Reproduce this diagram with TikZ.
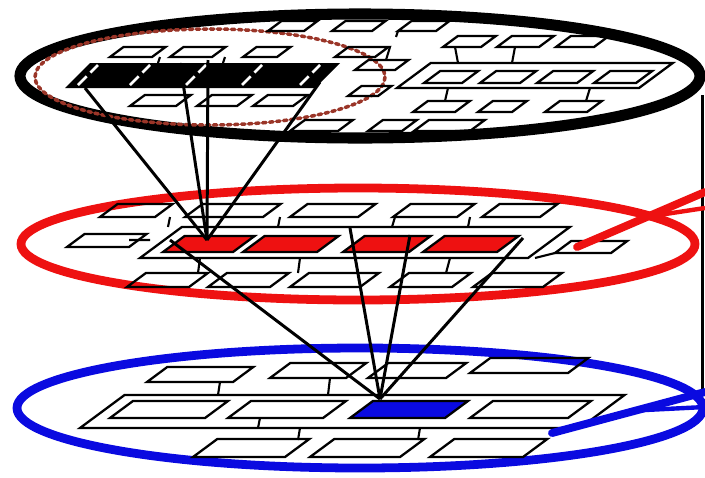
\documentclass[tikz,border=0pt]{standalone}
\usepackage{tikz}
\usetikzlibrary{calc}
\usepackage{xcolor}
\definecolor{toplayer}{HTML}{000000}
\definecolor{midlayer}{HTML}{EE1111}
\definecolor{lowlayer}{HTML}{0A0AE0}
\definecolor{zone}{HTML}{9A3528}

% parallelogram: bottom-left corner, width, height (skew follows height)
\newcommand{\pgram}[5][]{%
  \draw[box,#1] (#2,#3) -- ++(#4,0) -- ++({1.35*#5},{-#5}) -- ++(-#4,0) -- cycle;}

\begin{document}
\begin{tikzpicture}[x=0.02cm, y=-0.02cm,
    box/.style={line width=1.3pt, line join=miter},
    fan/.style={line width=1.7pt},
    stub/.style={line width=1.2pt}]
    \useasboundingbox (0,0) rectangle (705,477);

    % Layers
    \draw[line width=6.3pt, toplayer] (360,76) ellipse (340 and 62);
    \draw[line width=5pt, midlayer] (358,244) ellipse (337 and 56);
    \draw[line width=5pt, lowlayer] (360,408) ellipse (343 and 60);
    \draw[line width=2pt, zone, dotted, line cap=round] (210,77) ellipse (175 and 48);

    % Side line
    \coordinate (sideA) at (702,95);
    \coordinate (sideB) at (702,395);
    \draw[line width=1.7pt] (sideA) -- (sideB);

    % Top layer boxes
    \foreach \x/\w in {268/36, 332/40, 398/38} \pgram{\x}{31}{\w}{10};
    \foreach \x/\w in {443/38, 497/42, 556/38} \pgram{\x}{47}{\w}{11};
    \foreach \x/\w in {110/42, 170/42, 243/34, 335/40} \pgram{\x}{57}{\w}{10};
    \pgram{355}{70}{40}{10}
    \pgram{348}{96}{30}{10}
    \pgram{397}{88}{242}{25}
    \foreach \x/\w in {424/38, 480/40, 537/40, 594/42} \pgram{\x}{83}{\w}{12};
    \foreach \x/\w in {130/46, 197/40, 253/40} \pgram{\x}{106}{\w}{11};
    \foreach \x/\w in {413/42, 478/34, 545/42} \pgram{\x}{112}{\w}{11};
    \foreach \x/\w in {290/48, 368/34, 414/56} \pgram{\x}{131}{\w}{11};
    \draw[stub] (455,47) -- (458,63) (515,47) -- (512,63) (448,88) -- (445,101)
        (590,88) -- (586,101) (160,57) -- (158,63) (225,57) -- (223,63)
        (390,47) -- (386,60) (398,31) -- (396,37);

    % Selected group (top)
    \fill[toplayer] (65,88) -- (315,88) -- (340,63) -- (90,63) -- cycle;
    \foreach \x in {78, 130, 186, 242, 300}
      \draw[white, line width=1.5pt, dash pattern=on 7pt off 3pt] (\x,85) -- ++(20,-20);

    % Middle layer boxes
    \foreach \x/\w in {100/55, 185/78, 290/68, 393/64, 482/58} \pgram{\x}{217}{\w}{13};
    \pgram{67}{247}{62}{13}
    \pgram{140}{258}{388}{31}
    \foreach \x/\w in {163/70, 243/74, 343/66, 423/74}
      \pgram[fill=midlayer]{\x}{252}{\w}{16};
    \pgram{555}{253}{56}{12}
    \foreach \x/\w in {127/62, 208/62, 290/70, 390/62, 473/70} \pgram{\x}{287}{\w}{14};
    \draw[stub] (170,217) -- (168,227) (280,217) -- (278,227) (395,217) -- (392,227)
        (470,217) -- (468,227) (535,258) -- (555,253) (129,240) -- (150,240)
        (200,258) -- (198,273) (300,258) -- (298,273) (450,258) -- (446,273);

    % Lower layer boxes
    \foreach \x/\w/\y in {147/86/382, 270/76/378, 368/78/378, 470/98/373}
      \pgram{\x}{\y}{\w}{15};
    \pgram{80}{428}{500}{33}
    \foreach \x/\w in {110/95, 228/95, 470/98} \pgram{\x}{418}{\w}{17};
    \pgram[fill=lowlayer]{350}{418}{95}{17}
    \foreach \x/\w in {193/92, 310/90, 430/93} \pgram{\x}{457}{\w}{18};
    \draw[stub] (220,382) -- (218,395) (330,378) -- (328,395) (260,418) -- (258,428)
        (300,428) -- (298,440) (420,428) -- (418,440);

    % Fans between layers
    \coordinate (hitMid) at (207,240);
    \coordinate (hitLow) at (380,399);
    \foreach \p in {(85,88), (180,63), (208,60), (320,82)}
      \draw[fan] \p -- (hitMid);
    \foreach \p in {(170,240), (350,228), (410,235), (523,238)}
      \draw[fan] \p -- (hitLow);

    % Links leaving the picture
    \coordinate (outMid) at (577,247);
    \coordinate (outLow) at (552,433);
    \draw[midlayer, line width=4.5pt, line cap=round] (outMid) -- (705,192);
    \draw[midlayer, line width=2.5pt] ($(outMid)!0.55!(705,192)$) -- (705,208);
    \draw[lowlayer, line width=4.5pt, line cap=round] (outLow) -- (705,392);
    \draw[lowlayer, line width=2.5pt] ($(outLow)!0.55!(705,392)$) -- (705,407);
\end{tikzpicture}
\end{document}
